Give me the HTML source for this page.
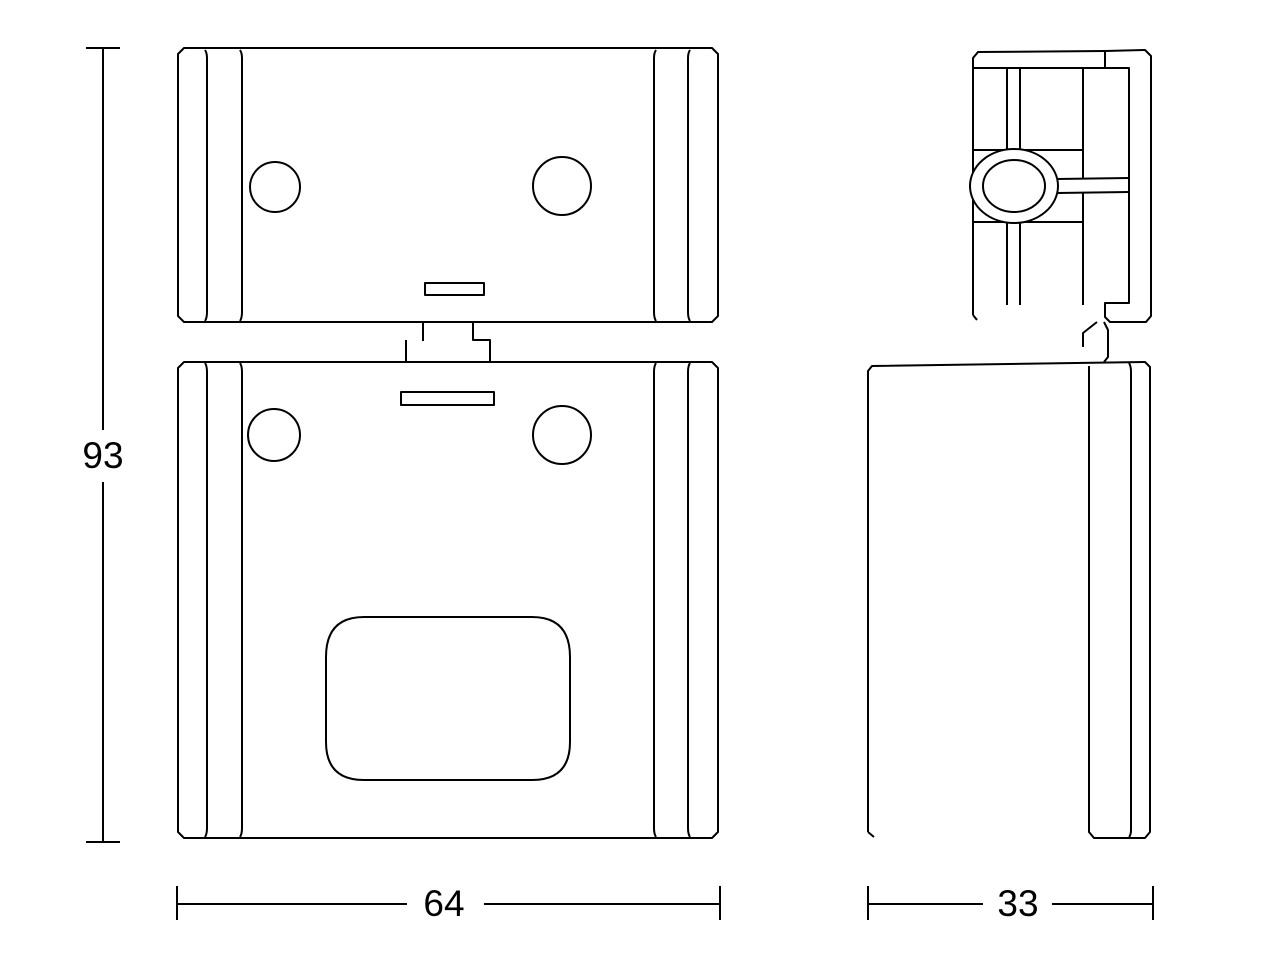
<!DOCTYPE html>
<html><head><meta charset="utf-8"><style>
html,body{margin:0;padding:0;background:#fff;width:1280px;height:960px;overflow:hidden}
svg{display:block}
text{font-family:"Liberation Sans",Arial,sans-serif;font-size:37px;fill:#000}
</style></head><body>
<svg width="1280" height="960" viewBox="0 0 1280 960" fill="none" stroke="#000" stroke-width="2" stroke-linejoin="round">
<!-- Front view top part -->
<path d="M184,48 L712,48 L718,54 L718,316 L712,322 L184,322 L178,316 L178,54 Z"/>
<path d="M205,50 Q207,53 207,58 L207,312 Q207,318 205,321"/>
<path d="M240,50 Q242,53 242,58 L242,312 Q242,318 240,321"/>
<path d="M656,50 Q654,53 654,58 L654,312 Q654,318 656,321"/>
<path d="M690,50 Q688,53 688,58 L688,312 Q688,318 690,321"/>
<circle cx="275" cy="187" r="25"/>
<circle cx="562" cy="186" r="29"/>
<rect x="425" y="283" width="59" height="12"/>
<!-- tab -->
<path d="M423,322 L423,341"/>
<path d="M406,340 L406,362"/>
<path d="M473,322 L473,340 L490,340 L490,362"/>
<!-- Front view bottom part -->
<path d="M184,362 L712,362 L718,368 L718,832 L712,838 L184,838 L178,832 L178,368 Z"/>
<path d="M205,363 Q207,366 207,372 L207,828 Q207,834 205,837"/>
<path d="M240,363 Q242,366 242,372 L242,828 Q242,834 240,837"/>
<path d="M656,363 Q654,366 654,372 L654,828 Q654,834 656,837"/>
<path d="M690,363 Q688,366 688,372 L688,828 Q688,834 690,837"/>
<rect x="401" y="392" width="93" height="13"/>
<circle cx="274" cy="435" r="26"/>
<circle cx="562" cy="435" r="29"/>
<path d="M364,617 L532,617 Q570,617 570,657 L570,742 Q570,780 532,780 L364,780 Q326,780 326,742 L326,657 Q326,617 364,617 Z"/>
<!-- Side view top part -->
<path d="M973,315 L973,58 L978,52 L1105,51"/>
<path d="M1105,51 L1145,50 L1151,56 L1151,316 L1146,322 L1110,322 L1105,317 L1105,303 L1129,303 L1129,68 L1105,68 L1105,51"/>
<path d="M973,68 L1105,68"/>
<path d="M973,315 L977,320"/>
<path d="M1007,68 L1007,150 M1020,68 L1020,150 M1007,222 L1007,305 M1020,222 L1020,305"/>
<path d="M1083,68 L1083,179 M1083,193 L1083,305"/>
<path d="M973,150 L1083,150 M973,222 L1083,222"/>
<path d="M1057,179 L1129,178 M1057,193 L1129,192"/>
<ellipse cx="1014" cy="186" rx="44" ry="37" fill="#fff"/>
<ellipse cx="1014" cy="186" rx="31" ry="26"/>
<path d="M1083,347 L1083,333 L1097,322"/>
<path d="M1104,322 L1108,330 L1108,357 L1104,362"/>
<!-- Side view bottom part -->
<path d="M868,832 L868,371 L872,366 L1145,362 L1150,367 L1150,832 L1145,838 L1094,838 L1089,832 L1089,366"/>
<path d="M868,832 L874,837"/>
<path d="M1129,363 Q1131,366 1131,372 L1131,830 Q1131,835 1129,837"/>
<!-- Dimensions -->
<path d="M103,48 L103,430 M103,482 L103,842 M86,48 L120,48 M86,842 L120,842"/>
<text x="103" y="468" text-anchor="middle" stroke="none">93</text>
<path d="M177,904 L407,904 M484,904 L720,904 M177,886 L177,920 M720,886 L720,920"/>
<text x="444" y="916" text-anchor="middle" stroke="none">64</text>
<path d="M868,904 L983,904 M1052,904 L1153,904 M868,886 L868,920 M1153,886 L1153,920"/>
<text x="1018" y="916" text-anchor="middle" stroke="none">33</text>
</svg>
</body></html>
